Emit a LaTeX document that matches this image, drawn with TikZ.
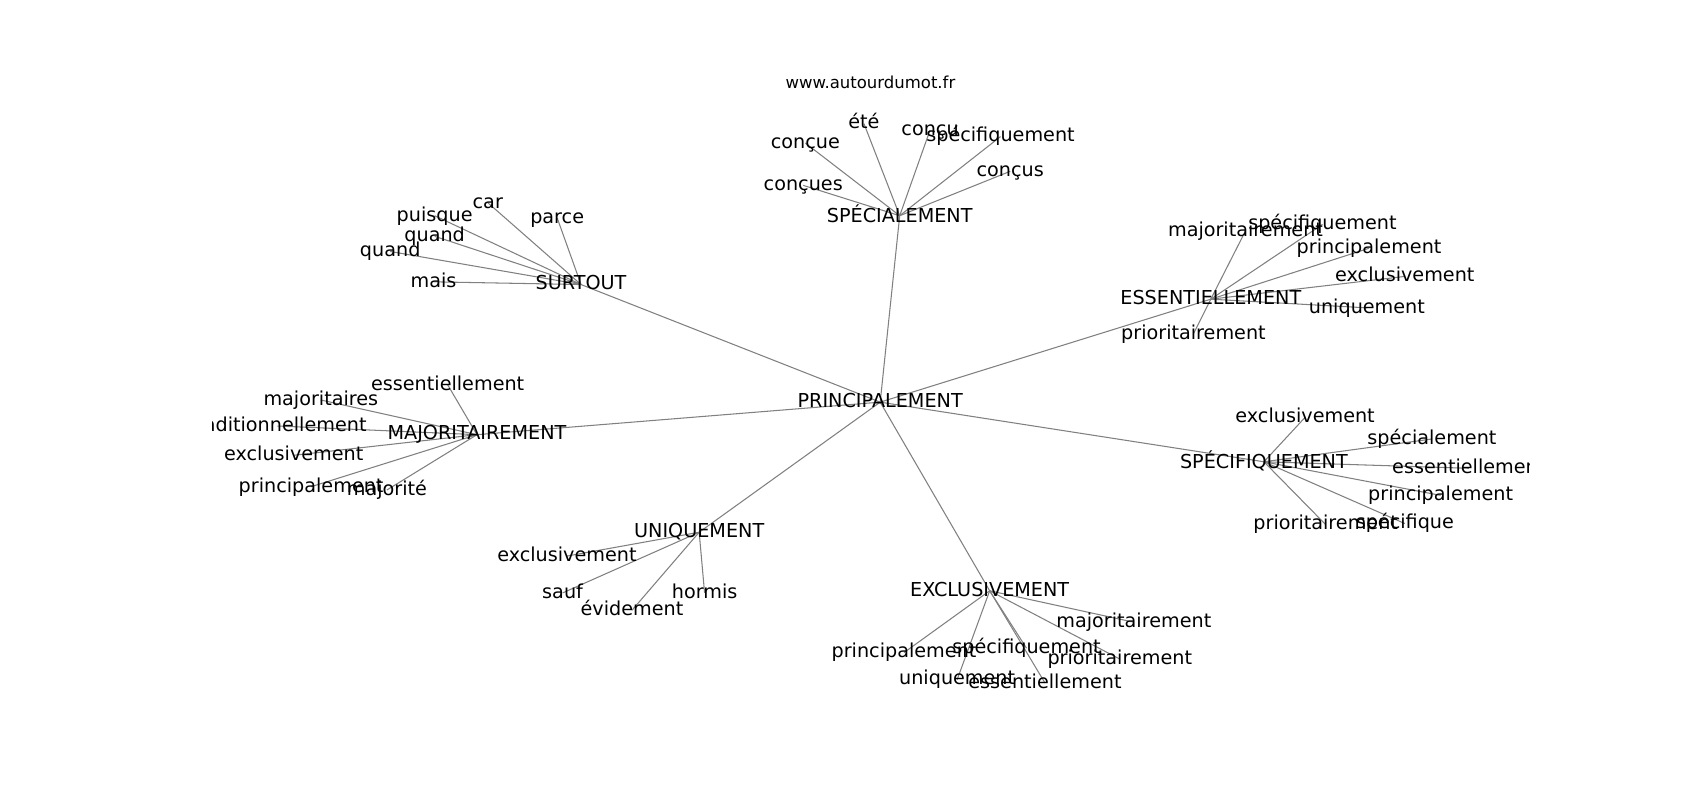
\documentclass[tikz,border=0pt]{standalone}
\usepackage{fontspec}
\setmainfont{DejaVu Sans}
\begin{document}
\begin{tikzpicture}[x=1.084pt,y=-1.084pt,
  edge/.style={draw=gray, line width=1.05pt},
  lblbase/.style={anchor=base, inner sep=0pt, font=\fontsize{19.2}{23}\selectfont},
  lbl/.style={lblbase, yshift=-5.3pt},
  lblacc/.style={lblbase, yshift=-6.9pt},
  ttl/.style={anchor=base, inner sep=0pt, yshift=-4.5pt, font=\fontsize{16.5}{20}\selectfont}]
\useasboundingbox[fill=white] (0,0) rectangle (1568.3,738);
% hubs
\coordinate (P) at (812,371);
\coordinate (SPA) at (830,199);
\coordinate (SUR) at (536,262.5);
\coordinate (ESS) at (1117,276);
\coordinate (MAJ) at (440,401);
\coordinate (SPF) at (1166,426);
\coordinate (UNI) at (645,491);
\coordinate (EXC) at (913,545);
% leaves of SPECIALEMENT
\coordinate (a1) at (741,171);
\coordinate (a2) at (743,132);
\coordinate (a3) at (797,114);
\coordinate (a4) at (858,120);
\coordinate (a5) at (923,126);
\coordinate (a6) at (932,158);
% leaves of SURTOUT
\coordinate (b1) at (450,187);
\coordinate (b2) at (514,201);
\coordinate (b3) at (401,199);
\coordinate (b4) at (401,218);
\coordinate (b5) at (360,232);
\coordinate (b6) at (400,260);
% leaves of ESSENTIELLEMENT
\coordinate (c1) at (1149,213);
\coordinate (c2) at (1220,207);
\coordinate (c3) at (1263,229);
\coordinate (c4) at (1296,255);
\coordinate (c5) at (1261,284);
\coordinate (c6) at (1101,308);
% leaves of MAJORITAIREMENT
\coordinate (d1) at (413,355);
\coordinate (d2) at (296,369);
\coordinate (d3) at (256,393);
\coordinate (d4) at (271,420);
\coordinate (d5) at (287,449);
\coordinate (d6) at (357,452);
% leaves of SPECIFIQUEMENT
\coordinate (e1) at (1204,385);
\coordinate (e2) at (1321,405);
\coordinate (e3) at (1355,432);
\coordinate (e4) at (1329,457);
\coordinate (e5) at (1223,484);
\coordinate (e6) at (1296,483);
% leaves of UNIQUEMENT
\coordinate (f1) at (523,513);
\coordinate (f2) at (519,547);
\coordinate (f3) at (583,563);
\coordinate (f4) at (650,547);
% leaves of EXCLUSIVEMENT
\coordinate (g1) at (834,602);
\coordinate (g2) at (947,598);
\coordinate (g3) at (883,627);
\coordinate (g4) at (964,630);
\coordinate (g5) at (1033,608);
\coordinate (g6) at (1046,574);

\begin{scope}
\clip (196,88.6) rectangle (1411,657);
\foreach \h/\l in {P/SPA,P/SUR,P/ESS,P/MAJ,P/SPF,P/UNI,P/EXC,
  SPA/a1,SPA/a2,SPA/a3,SPA/a4,SPA/a5,SPA/a6,
  SUR/b1,SUR/b2,SUR/b3,SUR/b4,SUR/b5,SUR/b6,
  ESS/c1,ESS/c2,ESS/c3,ESS/c4,ESS/c5,ESS/c6,
  MAJ/d1,MAJ/d2,MAJ/d3,MAJ/d4,MAJ/d5,MAJ/d6,
  SPF/e1,SPF/e2,SPF/e3,SPF/e4,SPF/e5,SPF/e6,
  UNI/f1,UNI/f2,UNI/f3,UNI/f4,
  EXC/g1,EXC/g2,EXC/g3,EXC/g4,EXC/g5,EXC/g6}
  \draw[edge] (\h) -- (\l);

\node[lbl] (tP) at (P) {PRINCIPALEMENT};
\node[lblacc] (tSPA) at (SPA) {SPÉCIALEMENT};
\node[lbl] (tSUR) at (SUR) {SURTOUT};
\node[lbl] (tESS) at (ESS) {ESSENTIELLEMENT};
\node[lbl] (tMAJ) at (MAJ) {MAJORITAIREMENT};
\node[lblacc] (tSPF) at (SPF) {SPÉCIFIQUEMENT};
\node[lbl] (tUNI) at (UNI) {UNIQUEMENT};
\node[lbl] (tEXC) at (EXC) {EXCLUSIVEMENT};

\node[lbl] (ta1) at (a1) {conçues};
\node[lbl] (ta2) at (a2) {conçue};
\node[lbl] (ta3) at (a3) {été};
\node[lbl] (ta4) at (a4) {conçu};
\node[lbl] (ta5) at (a5) {spécifiquement};
\node[lbl] (ta6) at (a6) {conçus};

\node[lbl] (tb1) at (b1) {car};
\node[lbl] (tb2) at (b2) {parce};
\node[lbl] (tb3) at (b3) {puisque};
\node[lbl] (tb4) at (b4) {quand};
\node[lbl] (tb5) at (b5) {quand};
\node[lbl] (tb6) at (b6) {mais};

\node[lbl] (tc1) at (c1) {majoritairement};
\node[lbl] (tc2) at (c2) {spécifiquement};
\node[lbl] (tc3) at (c3) {principalement};
\node[lbl] (tc4) at (c4) {exclusivement};
\node[lbl] (tc5) at (c5) {uniquement};
\node[lbl] (tc6) at (c6) {prioritairement};

\node[lbl] (td1) at (d1) {essentiellement};
\node[lbl] (td2) at (d2) {majoritaires};
\node[lbl] (td3) at (d3) {traditionnellement};
\node[lbl] (td4) at (d4) {exclusivement};
\node[lbl] (td5) at (d5) {principalement};
\node[lbl] (td6) at (d6) {majorité};

\node[lbl] (te1) at (e1) {exclusivement};
\node[lbl] (te2) at (e2) {spécialement};
\node[lbl] (te3) at (e3) {essentiellement};
\node[lbl] (te4) at (e4) {principalement};
\node[lbl] (te5) at (e5) {prioritairement};
\node[lbl] (te6) at (e6) {spécifique};

\node[lbl] (tf1) at (f1) {exclusivement};
\node[lbl] (tf2) at (f2) {sauf};
\node[lbl] (tf3) at (f3) {évidement};
\node[lbl] (tf4) at (f4) {hormis};

\node[lbl] (tg1) at (g1) {principalement};
\node[lbl] (tg2) at (g2) {spécifiquement};
\node[lbl] (tg3) at (g3) {uniquement};
\node[lbl] (tg4) at (g4) {essentiellement};
\node[lbl] (tg5) at (g5) {prioritairement};
\node[lbl] (tg6) at (g6) {majoritairement};
\end{scope}

\node[ttl] (title) at (803,77.5) {www.autourdumot.fr};
\end{tikzpicture}
\end{document}
